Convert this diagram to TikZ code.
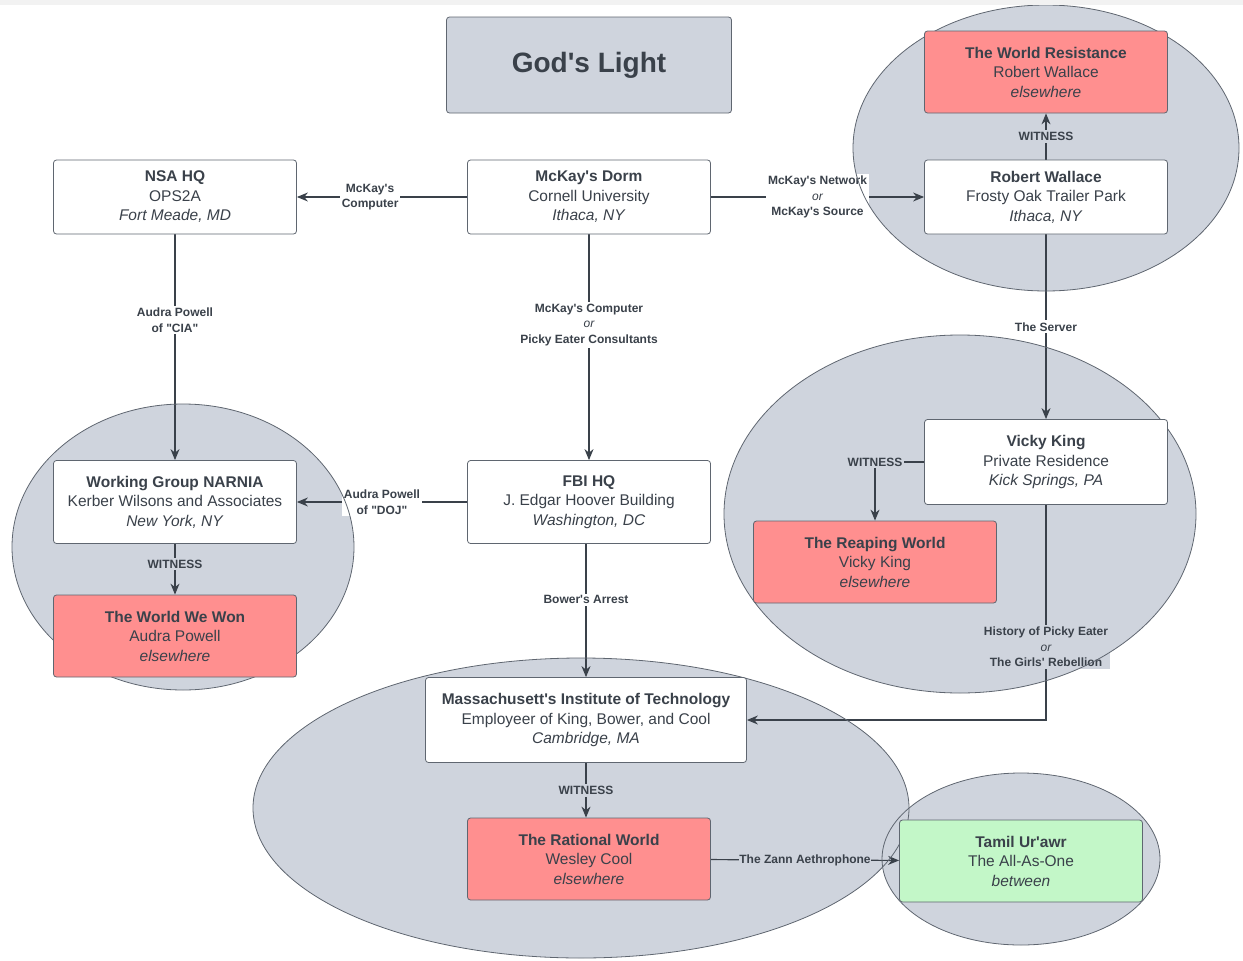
\documentclass[tikz,border=0pt]{standalone}
\usepackage{fontspec}
\setmainfont{Liberation Sans}[Ligatures=TeXOff]
\usetikzlibrary{arrows.meta, shapes.geometric, calc}
\definecolor{ink}{HTML}{3A414A}
\definecolor{haze}{HTML}{CFD4DD}
\definecolor{rose}{HTML}{FF8F8F}
\definecolor{mint}{HTML}{C3F7C8}
\definecolor{rim}{HTML}{5F6670}
\pgfdeclarelayer{back}
\pgfdeclarelayer{links}
\pgfdeclarelayer{rims}
\pgfsetlayers{back,links,rims,main}
\tikzstyle{site} = [rectangle, rounded corners=3pt, draw=rim, fill=white, line width=0.8pt,
                    minimum width=243pt, minimum height=74pt, align=center, text=ink,
                    font=\fontsize{15.5}{19.5}\selectfont]
\tikzstyle{world} = [site, fill=rose, minimum height=82pt]
\tikzstyle{titlebox} = [rectangle, rounded corners=3pt, draw=rim, fill=haze, line width=0.8pt,
                        minimum width=285pt, minimum height=96pt, text=ink,
                        font=\fontsize{28}{32}\selectfont\bfseries]
\tikzstyle{arrow} = [-{Stealth[length=11pt, width=9pt]}, line width=1.2pt, draw=ink]
\tikzstyle{lbl} = [font=\fontsize{12}{15.5}\selectfont\bfseries, text=ink, fill=white,
                   align=center, inner sep=2pt]

\begin{document}
\begin{tikzpicture}[x=1pt, y=-1pt]
    \useasboundingbox (0,0) rectangle (1243,961);
    \fill[black!5] (0,0) rectangle (1243,5);

    % boxes
    \node[titlebox] (title) at (589,65) {God's Light};
    \node[site] (nsa) at (175,197) {\textbf{NSA HQ}\\OPS2A\\\textit{Fort Meade, MD}};
    \node[site] (dorm) at (589,197) {\textbf{McKay's Dorm}\\Cornell University\\\textit{Ithaca, NY}};
    \node[site] (wallace) at (1046,197) {\textbf{Robert Wallace}\\Frosty Oak Trailer Park\\\textit{Ithaca, NY}};
    \node[world] (resist) at (1046,72) {\textbf{The World Resistance}\\Robert Wallace\\\textit{elsewhere}};
    \node[site, minimum height=83pt] (narnia) at (175,502) {\textbf{Working Group NARNIA}\\Kerber Wilsons and Associates\\\textit{New York, NY}};
    \node[world] (wewon) at (175,636) {\textbf{The World We Won}\\Audra Powell\\\textit{elsewhere}};
    \node[site, minimum height=83pt] (fbi) at (589,502) {\textbf{FBI HQ}\\J. Edgar Hoover Building\\\textit{Washington, DC}};
    \node[site, minimum height=85pt] (vicky) at (1046,462) {\textbf{Vicky King}\\Private Residence\\\textit{Kick Springs, PA}};
    \node[world] (reaping) at (875,562) {\textbf{The Reaping World}\\Vicky King\\\textit{elsewhere}};
    \node[site, minimum width=321pt, minimum height=85pt] (mit) at (586,720) {\textbf{Massachusett's Institute of Technology}\\Employeer of King, Bower, and Cool\\\textit{Cambridge, MA}};
    \node[world] (rational) at (589,859) {\textbf{The Rational World}\\Wesley Cool\\\textit{elsewhere}};
    \node[world, fill=mint] (tamil) at (1021,861) {\textbf{Tamil Ur'awr}\\The All-As-One\\\textit{between}};

    % groups
    \begin{pgfonlayer}{back}
        \fill[haze] (1046,148) ellipse [x radius=193pt, y radius=143pt];
        \fill[haze] (183,547) ellipse [x radius=171pt, y radius=143pt];
        \fill[haze] (960,514) ellipse [x radius=236pt, y radius=179pt];
        \fill[haze] (581,808) ellipse [x radius=328pt, y radius=150pt];
        \fill[haze] (1021,859) ellipse [x radius=139pt, y radius=86pt];
    \end{pgfonlayer}
    \begin{pgfonlayer}{rims}
        \draw[rim, line width=0.8pt] (1046,148) ellipse [x radius=193pt, y radius=143pt];
        \draw[rim, line width=0.8pt] (183,547) ellipse [x radius=171pt, y radius=143pt];
        \draw[rim, line width=0.8pt] (960,514) ellipse [x radius=236pt, y radius=179pt];
        \draw[rim, line width=0.8pt] (581,808) ellipse [x radius=328pt, y radius=150pt];
        \draw[rim, line width=0.8pt] (1021,859) ellipse [x radius=139pt, y radius=86pt];
    \end{pgfonlayer}

    % links
    \begin{pgfonlayer}{links}
        \draw[arrow] (dorm) -- node[lbl, pos=0.57] {McKay's\\Computer} (nsa);
        \draw[arrow] (dorm) -- node[lbl] {McKay's Network\\{\mdseries\itshape or}\\McKay's Source} (wallace);
        \draw[arrow] (dorm) -- node[lbl, pos=0.4] {McKay's Computer\\{\mdseries\itshape or}\\Picky Eater Consultants} (fbi);
        \draw[arrow] (nsa) -- node[lbl, pos=0.38] {Audra Powell\\of "CIA"} (narnia);
        \draw[arrow] (fbi) -- node[lbl] {Audra Powell\\of "DOJ"} (narnia);
        \draw[arrow] (narnia) -- node[lbl, fill=haze, pos=0.4] {WITNESS} (wewon);
        \draw[arrow] (wallace) -- node[lbl, fill=haze] {WITNESS} (resist);
        \draw[arrow] (wallace) -- node[lbl] {The Server} (vicky);
        \draw[arrow] (vicky.west) -| node[lbl, fill=haze] {WITNESS} (reaping.north);
        \draw[arrow] (vicky.south) |- node[lbl, fill=haze, pos=0.33] {History of Picky Eater\\{\mdseries\itshape or}\\The Girls' Rebellion} (mit.east);
        \draw[arrow] (mit.north |- fbi.south) -- node[lbl, pos=0.42] {Bower's Arrest} (mit.north);
        \draw[arrow] (mit.south) -- node[lbl, fill=haze] {WITNESS} (mit.south |- rational.north);
        \draw[arrow] (rational) -- node[lbl, fill=haze, inner sep=0.5pt] {The Zann Aethrophone} (tamil);
    \end{pgfonlayer}
\end{tikzpicture}
\end{document}
